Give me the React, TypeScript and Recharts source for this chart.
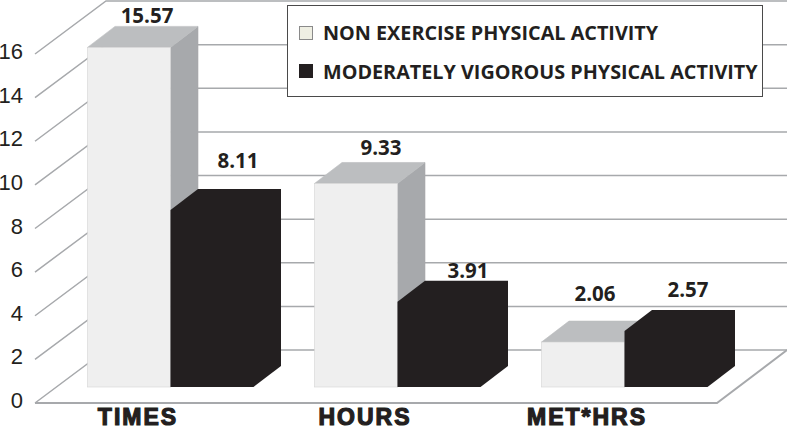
import React from 'react';
import { ComposedChart, Bar, XAxis, YAxis, CartesianGrid, Legend, LabelList } from 'recharts';

const categories = ['TIMES', 'HOURS', 'MET*HRS'];
const nonExercise = [15.57, 9.33, 2.06];
const moderatelyVigorous = [8.11, 3.91, 2.57];
const yTicks = [0, 2, 4, 6, 8, 10, 12, 14, 16];
const seriesNames = ['NON EXERCISE PHYSICAL ACTIVITY', 'MODERATELY VIGOROUS PHYSICAL ACTIVITY'];

const data = categories.map((name, i) => ({
  name,
  nonExercise: nonExercise[i],
  moderatelyVigorous: moderatelyVigorous[i],
}));

const W = 787;
const H = 430;
const INK = '#231F20';
const GRID = '#A7A9AC';
const LABEL_FONT = '"Open Sans", sans-serif';

// Perspective of the 3D box and of the room behind it
const DX = 27.5;
const DY = 21;
const LIFT = 16;
const ROOM_DX = 71;
const ROOM_DY = 53;
const ROOM_LEFT = 35;
const ROOM_RIGHT = 787;
const FLOOR_RIGHT = 717;

const lightBox = (p: any) => {
  const { x, y, width, height } = p;
  const t = y - LIFT;
  const b = y + height - LIFT;
  const r = x + width;
  return (
    <g strokeWidth={0.6}>
      <polygon points={`${r},${t} ${r + DX},${t - DY} ${r + DX},${b - DY} ${r},${b}`} fill="#A7A9AC" stroke="#A7A9AC" />
      <polygon points={`${x},${t} ${x + DX},${t - DY} ${r + DX},${t - DY} ${r},${t}`} fill="#BCBEC0" stroke="#BCBEC0" />
      <rect x={x} y={t} width={width} height={b - t} fill="#EFEFEF" stroke="#D4D4D4" />
    </g>
  );
};

// The dark box has one colour on all faces, so it is a single outline
const darkBox = (p: any) => {
  const { x, y, width, height } = p;
  const t = y - LIFT;
  const b = y + height - LIFT;
  const r = x + width;
  return (
    <polygon
      points={`${x},${t} ${x + DX},${t - DY} ${r + DX},${t - DY} ${r + DX},${b - DY} ${r},${b} ${x},${b}`}
      fill={INK}
    />
  );
};

const gridLine = (p: any) => {
  const y = p.y1;
  const backY = y - ROOM_DY;
  const isFloor = Math.abs(y - (p.y + p.height)) < 1;
  return (
    <g key={p.key ?? y} fill="none" stroke={GRID} strokeWidth={1.5}>
      <polyline points={`${ROOM_LEFT},${y} ${ROOM_LEFT + ROOM_DX},${backY} ${ROOM_RIGHT},${backY}`} />
      {isFloor && (
        <polyline points={`${ROOM_LEFT},${y} ${FLOOR_RIGHT},${y} ${ROOM_RIGHT},${backY}`} strokeWidth={2} />
      )}
    </g>
  );
};

const YTick = (p: any) => (
  <text x={23} y={p.y + 5} textAnchor="end" fontFamily='"Liberation Sans", Arial, sans-serif' fontSize={22} fill={INK}>
    {p.payload.value}
  </text>
);

const xTickShift = [-32, -32, -37];
const XTick = (p: any) => (
  <text
    x={p.x + xTickShift[p.index]}
    y={425}
    textAnchor="middle"
    fontFamily='"Liberation Sans", Arial, sans-serif'
    fontWeight={700}
    fontSize={23}
    letterSpacing={2}
    stroke="#231F20"
    strokeWidth={1.2}
    fill={INK}
  >
    {p.payload.value}
  </text>
);

const labelShifts = [
  [[18, -24], [25, -28], [12, -41]],
  [[26, -42], [29, -24], [22, -34]],
];
const ValueLabel = (series: number) => (p: any) => {
  const [dx, dy] = labelShifts[series][p.index];
  return (
    <text
      x={p.x + p.width / 2 + dx}
      y={p.y - LIFT + dy}
      textAnchor="middle"
      fontFamily={LABEL_FONT}
      fontWeight={700}
      fontSize={20.5}
      fill={INK}
    >
      {p.value.toFixed(2)}
    </text>
  );
};

const LegendBox = ({ payload }: any) => {
  const items = [...(payload ?? [])].sort((a: any, b: any) => seriesNames.indexOf(a.value) - seriesNames.indexOf(b.value));
  return (
    <div
      style={{
        position: 'relative',
        boxSizing: 'border-box',
        width: 476,
        height: 92,
        background: '#fff',
        border: '1.5px solid #4A4A4A',
        fontFamily: LABEL_FONT,
        fontWeight: 700,
        fontSize: 19.8,
        color: INK,
        whiteSpace: 'nowrap',
      }}
    >
      {items.map((e: any, i: number) => (
        <div key={e.value} style={{ position: 'absolute', left: 11, top: 14.5 + i * 38.5, height: 24, display: 'flex', alignItems: 'center' }}>
          <span
            style={{
              display: 'inline-block',
              boxSizing: 'border-box',
              width: 14,
              height: 14,
              background: e.color,
              border: i === 0 ? '1px solid #8A8A8A' : 'none',
              marginRight: 10,
            }}
          />
          <span>{e.value}</span>
        </div>
      ))}
    </div>
  );
};

export default function App() {
  return (
    <div style={{ position: 'absolute', left: 0, top: 0, width: W, height: H, overflow: 'hidden', background: '#fff' }}>
      <ComposedChart
        width={W}
        height={H}
        data={data}
        margin={{ top: 54, right: 49.5, bottom: 0, left: 0 }}
        barCategoryGap={31}
        barGap={0}
      >
        <CartesianGrid vertical={false} horizontal={gridLine} syncWithTicks />
        <XAxis dataKey="name" height={27} axisLine={false} tickLine={false} tick={XTick} interval={0} />
        <YAxis width={56.5} domain={[0, 16]} ticks={yTicks} interval={0} axisLine={false} tickLine={false} tick={YTick} />
        <Legend
          layout="vertical"
          align="center"
          verticalAlign="middle"
          content={LegendBox}
          wrapperStyle={{ left: 287, top: 5, width: 476, height: 92 }}
        />
        <Bar dataKey="nonExercise" name={seriesNames[0]} fill="#EFEFE3" shape={lightBox} isAnimationActive={false}>
          <LabelList dataKey="nonExercise" content={ValueLabel(0)} />
        </Bar>
        <Bar dataKey="moderatelyVigorous" name={seriesNames[1]} fill={INK} shape={darkBox} isAnimationActive={false}>
          <LabelList dataKey="moderatelyVigorous" content={ValueLabel(1)} />
        </Bar>
      </ComposedChart>
    </div>
  );
}
